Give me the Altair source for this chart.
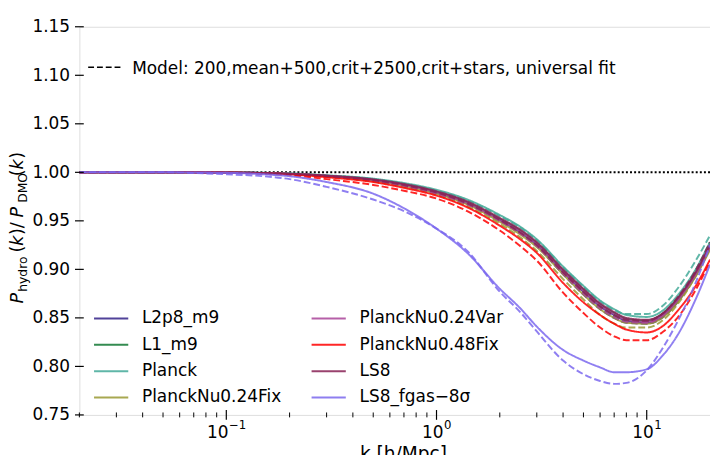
import altair as alt
import pandas as pd

# ---------------- data ----------------
k = [0.02, 0.05, 0.1, 0.15, 0.2, 0.3, 0.5, 0.7, 1.0, 1.4, 2.0, 2.5, 3.0,
     4.0, 5.0, 6.0, 7.0, 8.0, 10.0, 12.0, 14.0, 17.0, 20.0]

sims = ["L2p8_m9", "L1_m9", "Planck", "PlanckNu0.24Fix", "PlanckNu0.24Var",
        "PlanckNu0.48Fix", "LS8", "LS8_fgas\u22128\u03c3"]
colors = ["#332288", "#117733", "#44AA99", "#999933", "#AA4499",
          "#FF0000", "#882255", "#7B68EE"]

hydro = {
    "L2p8_m9":         [1, 1, 0.9998, 0.9993, 0.9985, 0.9963, 0.992, 0.987, 0.979, 0.968, 0.951, 0.938, 0.925, 0.897, 0.877, 0.862, 0.853, 0.847, 0.845, 0.852, 0.867, 0.893, 0.922],
    "L1_m9":           [1, 1, 0.9998, 0.9993, 0.9985, 0.9965, 0.9925, 0.9875, 0.980, 0.969, 0.952, 0.940, 0.927, 0.899, 0.879, 0.864, 0.855, 0.849, 0.847, 0.855, 0.870, 0.896, 0.925],
    "Planck":          [1, 1, 0.9999, 0.9995, 0.999, 0.997, 0.9935, 0.989, 0.982, 0.972, 0.956, 0.944, 0.931, 0.903, 0.883, 0.868, 0.859, 0.853, 0.851, 0.858, 0.873, 0.899, 0.928],
    "PlanckNu0.24Fix": [1, 1, 0.9998, 0.9992, 0.9983, 0.996, 0.9915, 0.986, 0.978, 0.967, 0.949, 0.936, 0.923, 0.895, 0.874, 0.859, 0.850, 0.845, 0.844, 0.851, 0.866, 0.892, 0.920],
    "PlanckNu0.24Var": [1, 1, 0.9998, 0.9993, 0.9985, 0.9964, 0.9922, 0.987, 0.9795, 0.9685, 0.951, 0.939, 0.926, 0.898, 0.878, 0.863, 0.854, 0.848, 0.846, 0.853, 0.868, 0.894, 0.923],
    "PlanckNu0.48Fix": [1, 1, 0.9997, 0.999, 0.998, 0.995, 0.990, 0.984, 0.976, 0.964, 0.945, 0.931, 0.917, 0.886, 0.866, 0.853, 0.844, 0.838, 0.835, 0.842, 0.857, 0.882, 0.910],
    "LS8":             [1, 1, 0.9998, 0.9993, 0.9986, 0.9966, 0.9927, 0.988, 0.9805, 0.970, 0.953, 0.941, 0.928, 0.900, 0.880, 0.865, 0.856, 0.850, 0.848, 0.855, 0.870, 0.896, 0.925],
    "LS8_fgas\u22128\u03c3": [1, 1, 0.9995, 0.998, 0.996, 0.990, 0.978, 0.963, 0.942, 0.917, 0.880, 0.860, 0.841, 0.817, 0.806, 0.799, 0.794, 0.794, 0.797, 0.812, 0.832, 0.868, 0.905],
}

model = {
    "L2p8_m9":         [1, 1, 0.9997, 0.9991, 0.9982, 0.996, 0.9915, 0.986, 0.978, 0.967, 0.950, 0.937, 0.924, 0.895, 0.874, 0.859, 0.850, 0.845, 0.844, 0.851, 0.866, 0.894, 0.925],
    "L1_m9":           [1, 1, 0.9997, 0.9991, 0.9982, 0.996, 0.992, 0.9865, 0.979, 0.968, 0.951, 0.938, 0.925, 0.897, 0.876, 0.861, 0.852, 0.847, 0.846, 0.854, 0.870, 0.898, 0.928],
    "Planck":          [1, 1, 0.9998, 0.9993, 0.9986, 0.9966, 0.993, 0.988, 0.981, 0.971, 0.955, 0.943, 0.930, 0.902, 0.882, 0.867, 0.858, 0.854, 0.854, 0.863, 0.880, 0.908, 0.935],
    "PlanckNu0.24Fix": [1, 1, 0.9996, 0.999, 0.998, 0.9955, 0.9905, 0.985, 0.977, 0.965, 0.947, 0.933, 0.919, 0.890, 0.869, 0.853, 0.844, 0.840, 0.840, 0.848, 0.864, 0.892, 0.922],
    "PlanckNu0.24Var": [1, 1, 0.9997, 0.9991, 0.9982, 0.996, 0.9915, 0.986, 0.978, 0.967, 0.950, 0.937, 0.924, 0.896, 0.875, 0.860, 0.851, 0.846, 0.845, 0.853, 0.869, 0.896, 0.926],
    "PlanckNu0.48Fix": [1, 1, 0.9995, 0.9985, 0.997, 0.993, 0.987, 0.981, 0.973, 0.960, 0.940, 0.924, 0.909, 0.876, 0.855, 0.840, 0.831, 0.827, 0.827, 0.836, 0.850, 0.878, 0.908],
    "LS8":             [1, 1, 0.9997, 0.9992, 0.9984, 0.9962, 0.992, 0.9868, 0.9792, 0.968, 0.951, 0.938, 0.925, 0.897, 0.877, 0.862, 0.853, 0.848, 0.847, 0.855, 0.871, 0.898, 0.928],
    "LS8_fgas\u22128\u03c3": [1, 1, 0.998, 0.996, 0.993, 0.985, 0.972, 0.960, 0.942, 0.919, 0.877, 0.856, 0.836, 0.806, 0.792, 0.785, 0.782, 0.783, 0.796, 0.820, 0.846, 0.885, 0.925],
}

y_ticks = [0.75, 0.80, 0.85, 0.90, 0.95, 1.00, 1.05, 1.10, 1.15]
x_major = [0.1, 1.0, 10.0]
x_exponents = ["\u22121", "0", "1"]
x_minor = [0.02, 0.03, 0.04, 0.05, 0.06, 0.07, 0.08, 0.09,
           0.2, 0.3, 0.4, 0.5, 0.6, 0.7, 0.8, 0.9,
           2, 3, 4, 5, 6, 7, 8, 9]
annotation = "Model: 200,mean+500,crit+2500,crit+stars, universal fit"

# ---------------- build ----------------
rows = []
for s in sims:
    for kk, v in zip(k, hydro[s]):
        rows.append({"k": kk, "r": v, "sim": s, "kind": "hydro"})
    for kk, v in zip(k, model[s]):
        rows.append({"k": kk, "r": v, "sim": s, "kind": "model"})
df = pd.DataFrame(rows)

W, H = 645, 397
FONT = "DejaVu Sans"
FS = 17.3

xs = alt.Scale(type="log", domain=[0.02, 20], nice=False)
ys = alt.Scale(domain=[0.75, 1.15], nice=False, zero=False)

lines = alt.Chart(df).mark_line(strokeWidth=2, opacity=0.85, clip=True,
                                interpolate="monotone").encode(
    x=alt.X("k:Q", scale=xs,
            axis=alt.Axis(values=x_major, ticks=False, domain=False, grid=False,
                          labels=False,
                          title="k [h/Mpc]", titleFontSize=19, titleFont=FONT,
                          titleFontWeight="normal", titleColor="black",
                          titleBaseline="alphabetic", titleY=46,
                          titleX=331, titleAlign="center")),
    y=alt.Y("r:Q", scale=ys,
            axis=alt.Axis(values=y_ticks, format=".2f", ticks=False, tickSize=0,
                          domain=False, grid=False, labelFontSize=FS,
                          labelFont=FONT, labelColor="black", labelPadding=10,
                          title=None)),
    color=alt.Color("sim:N", scale=alt.Scale(domain=sims, range=colors),
                    legend=alt.Legend(orient="none", legendX=14, legendY=290,
                                      columns=2, symbolType="stroke",
                                      symbolSize=1225, symbolStrokeWidth=2,
                                      clipHeight=16.5, rowPadding=9,
                                      columnPadding=29.5, labelOffset=13,
                                      labelFontSize=FS, labelFont=FONT,
                                      labelColor="black", padding=0, title=None)),
    strokeDash=alt.StrokeDash("kind:N",
                              scale=alt.Scale(domain=["hydro", "model"],
                                              range=[[1, 0], [7, 3]]),
                              legend=None),
)

one = alt.Chart(pd.DataFrame({"v": [1.0]})).mark_rule(
    color="black", strokeWidth=2, strokeDash=[2, 2.2]).encode(
    y=alt.Y("v:Q", scale=ys))

ytick = alt.Chart(pd.DataFrame({"v": y_ticks})).mark_rule(
    color="black", strokeWidth=1.2).encode(
    y=alt.Y("v:Q", scale=ys), x=alt.value(-4.5), x2=alt.value(4.5))

xtick = alt.Chart(pd.DataFrame({"v": x_major})).mark_rule(
    color="black", strokeWidth=1.2).encode(
    x=alt.X("v:Q", scale=xs), y=alt.value(H - 5), y2=alt.value(H + 5))

xmin = alt.Chart(pd.DataFrame({"v": x_minor})).mark_rule(
    color="black", strokeWidth=1).encode(
    x=alt.X("v:Q", scale=xs), y=alt.value(H - 2.5), y2=alt.value(H + 2.5))

# x tick labels as 10 with a raised exponent
xlabels = []
for v, e in zip(x_major, x_exponents):
    d = pd.DataFrame({"v": [v], "e": [e]})
    w10 = 2 * 0.636 * FS
    wexp = (0.838 if e.startswith("\u2212") else 0) * 12 + 0.636 * 12
    dx = (w10 - wexp) / 2
    xlabels.append(alt.Chart(d).mark_text(
        text="10", align="right", baseline="alphabetic", fontSize=FS,
        font=FONT, color="black", dx=dx).encode(
        x=alt.X("v:Q", scale=xs), y=alt.value(H + 24)))
    xlabels.append(alt.Chart(d).mark_text(
        align="left", baseline="alphabetic", fontSize=12,
        font=FONT, color="black", dx=dx + 0.5).encode(
        x=alt.X("v:Q", scale=xs), y=alt.value(H + 14), text="e:N"))

dummy = pd.DataFrame({"a": [0]})
ann_line = alt.Chart(dummy).mark_rule(color="black", strokeWidth=1.5,
                                      strokeDash=[6, 3]).encode(
    x=alt.value(9), x2=alt.value(44), y=alt.value(41.5))
ann_text = alt.Chart(dummy).mark_text(text=annotation, align="left",
                                      baseline="alphabetic", fontSize=FS,
                                      font=FONT, color="black").encode(
    x=alt.value(54), y=alt.value(48))


def piece(txt, xpos, ypos, size, italic=False):
    return alt.Chart(dummy).mark_text(
        text=txt, angle=270, align="left", baseline="alphabetic",
        fontSize=size, font=FONT, color="black",
        fontStyle="italic" if italic else "normal").encode(
        x=alt.value(xpos), y=alt.value(ypos))


BX, SX = -57.5, -54
title_parts = [
    piece("P", BX, 283, 18, True),
    piece("hydro", SX, 271, 12.6),
    piece("(", BX, 231, 18),
    piece("k", BX, 224, 18, True),
    piece(")/", BX, 213, 18),
    piece("P", BX, 195, 18, True),
    piece("DMO", SX, 180, 12.6),
    piece("(", BX, 153, 18),
    piece("k", BX, 146, 18, True),
    piece(")", BX, 135, 18),
]

chart = alt.layer(one, lines, ytick, xtick, xmin, ann_line, ann_text,
                  *xlabels, *title_parts).properties(
    width=W, height=H,
    autosize=alt.AutoSizeParams(type="none"),
    padding={"left": 73, "top": 14, "right": 0, "bottom": 45},
).configure_view(stroke="black", strokeWidth=1.2).configure(
    font=FONT, background="white")

chart.save("out.html", embed_options={"renderer": "svg", "actions": False})
